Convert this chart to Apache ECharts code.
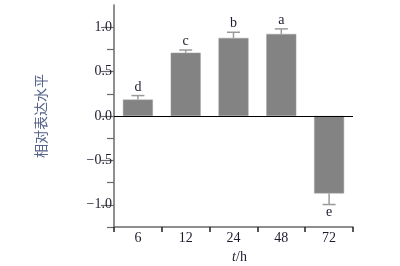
<!DOCTYPE html>
<html><head><meta charset="utf-8">
<script src="https://cdn.jsdelivr.net/npm/echarts@6/dist/echarts.min.js"></script>
<style>html,body{margin:0;padding:0;background:#fff}#c{width:400px;height:266px}</style>
</head><body><div id="c"></div>
<script>
var categories = ['6', '12', '24', '48', '72'];
var means = [0.185, 0.713, 0.879, 0.924, -0.872];
var errors = [0.045, 0.03, 0.064, 0.057, 0.125];
var letters = ['d', 'c', 'b', 'a', 'e'];
var majorTicks = [-1, -0.5, 0, 0.5, 1];
var minorTicks = [-1.25, -0.75, -0.25, 0.25, 0.75];

var serif = '"Liberation Serif","Times New Roman",serif';
var errData = means.map(function (m, i) { return [i, m, m >= 0 ? m + errors[i] : m - errors[i], letters[i]]; });

var chart = echarts.init(document.getElementById('c'), null, {renderer: 'canvas'});
chart.setOption({
  animation: false,
  backgroundColor: '#fff',
  grid: {left: 114, right: 47, top: 5, bottom: 39, containLabel: false, outerBoundsMode: 'none'},
  xAxis: [{
    type: 'category', data: categories, position: 'bottom',
    axisLine: {onZero: false, lineStyle: {color: '#6a6a6a', width: 1.5}},
    axisTick: {show: true, length: 5, alignWithLabel: false, lineStyle: {color: '#222', width: 1.5}},
    axisLabel: {fontFamily: serif, fontSize: 14, color: '#1c1c2c', margin: 4},
    splitLine: {show: false},
    name: '{i|t}/h', nameLocation: 'middle', nameGap: 20,
    nameTextStyle: {fontFamily: serif, fontSize: 14, color: '#1c1c2c', padding: [0, 0, 0, 12],
      rich: {i: {fontFamily: serif, fontSize: 14, fontStyle: 'italic', color: '#1c1c2c'}}}
  }],
  yAxis: [{
    type: 'value', min: -1.25, max: 1.25, position: 'left',
    axisLine: {show: true, onZero: false, lineStyle: {color: '#6a6a6a', width: 1.5}},
    axisTick: {show: true, length: 13, customValues: majorTicks, lineStyle: {color: '#6a6a6a', width: 1.2}},
    axisLabel: {customValues: majorTicks, fontFamily: serif, fontSize: 14, color: '#1c1c2c', margin: 2,
      formatter: function (v) { return (v < 0 ? '\u2212' + Math.abs(v).toFixed(1) : v.toFixed(1)); }},
    splitLine: {show: false},
    name: '相对表达水平', nameLocation: 'middle', nameGap: 66, nameRotate: 90,
    nameTextStyle: {fontFamily: '"Noto Sans CJK SC",sans-serif', fontSize: 14, color: '#56648a'}
  }, {
    type: 'value', min: -1.25, max: 1.25, position: 'left',
    axisLine: {show: false, onZero: false},
    axisTick: {show: true, length: 7, customValues: minorTicks, lineStyle: {color: '#6a6a6a', width: 1.2}},
    axisLabel: {show: false},
    splitLine: {show: false}
  }],
  series: [{
    type: 'bar', data: means, barWidth: 30,
    itemStyle: {color: '#838383', borderColor: '#a0a0a0', borderWidth: 0.5},
    markLine: {silent: true, symbol: 'none', label: {show: false},
      lineStyle: {color: '#000', width: 1, type: 'solid'}, data: [{yAxis: 0}]},
    z: 2
  }, {
    type: 'custom', data: errData, z: 3,
    renderItem: function (params, api) {
      var base = api.coord([api.value(0), api.value(1)]);
      var end = api.coord([api.value(0), api.value(2)]);
      var up = api.value(1) >= 0;
      var cap = 6.5;
      return {type: 'group', children: [
        {type: 'line', shape: {x1: base[0], y1: base[1], x2: end[0], y2: end[1]}, style: {stroke: '#9a9a9a', lineWidth: 1.5}},
        {type: 'line', shape: {x1: end[0] - cap, y1: end[1], x2: end[0] + cap, y2: end[1]}, style: {stroke: '#9a9a9a', lineWidth: 1.5}},
        {type: 'text', x: end[0], y: up ? end[1] - 1.5 : end[1] + 0.5,
          style: {text: api.value(3), fill: '#1c1c2c', font: '14px ' + serif, textAlign: 'center', textVerticalAlign: up ? 'bottom' : 'top'}}
      ]};
    }
  }]
});
</script></body></html>
